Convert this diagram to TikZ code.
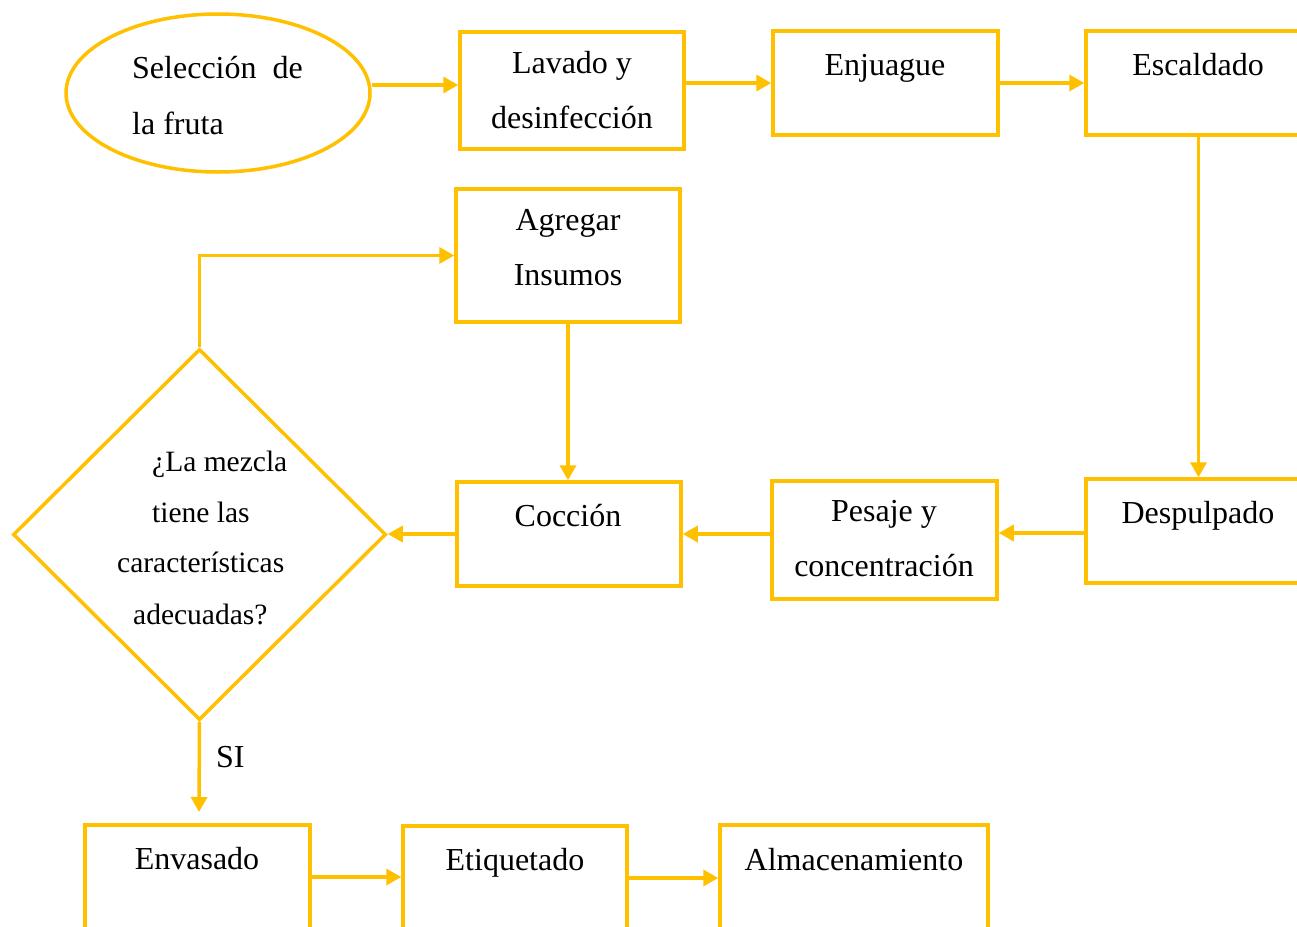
\documentclass[tikz,border=0pt]{standalone}
\usepackage{fontspec}
\setmainfont{Liberation Serif}
\usetikzlibrary{shapes.geometric,arrows.meta,fit}
\definecolor{gold}{HTML}{FFC000}
\tikzset{
  shapeline/.style={draw=gold, line width=3.5pt},
  procbox/.style={shapeline, rectangle, inner sep=0pt},
  arr/.style={draw=gold, line width=3.5pt, -{Triangle[length=15pt,width=16pt]}},
  lbl/.style={font=\fontsize{32}{38}\selectfont, inner sep=0pt, anchor=base},
  qlbl/.style={font=\fontsize{29.5}{35}\selectfont, inner sep=0pt, anchor=base west},
}
\begin{document}
\begin{tikzpicture}[x=1pt,y=-1pt]
\clip (0,0) rectangle (1297,926);
\fill[white] (0,0) rectangle (1297,926);

% start and decision shapes
\node[shapeline, ellipse, minimum width=304pt, minimum height=158pt, inner sep=0pt] (sel) at (218,93) {};
\node[shapeline, diamond, minimum width=373pt, minimum height=371pt, inner sep=0pt] (dia) at (199.5,534.5) {};

% process boxes
\node[procbox, fit={(460,32) (684,149)}] (lav) {};
\node[procbox, fit={(773,31) (998,135)}] (enj) {};
\node[procbox, fit={(1086,31) (1311,135)}] (esc) {};
\node[procbox, fit={(456,189) (680,322)}] (agr) {};
\node[procbox, fit={(457,482) (681,586)}] (coc) {};
\node[procbox, fit={(772,481) (997,599)}] (pes) {};
\node[procbox, fit={(1086,479) (1311,583)}] (desp) {};
\node[procbox, fit={(85,825) (310,929)}] (env) {};
\node[procbox, fit={(403,826) (627,930)}] (etq) {};
\node[procbox, fit={(720,825) (988,929)}] (alm) {};

% texts
\node[qlbl, font=\fontsize{32}{38}\selectfont] (t-sel1) at (132,78) {Selección\ \ de};
\node[qlbl, font=\fontsize{32}{38}\selectfont] (t-sel2) at (132,134) {la fruta};
\node[lbl] (t-lav1) at (572,73) {Lavado y};
\node[lbl] (t-lav2) at (572,128) {desinfección};
\node[lbl] (t-enj) at (885,75) {Enjuague};
\node[lbl] (t-esc) at (1198,75) {Escaldado};
\node[lbl] (t-agr1) at (568,230) {Agregar};
\node[lbl] (t-agr2) at (568,285) {Insumos};
\node[lbl] (t-coc) at (568,526) {Cocción};
\node[lbl] (t-pes1) at (884,521) {Pesaje y};
\node[lbl] (t-pes2) at (884,576) {concentración};
\node[lbl] (t-desp) at (1198,523) {Despulpado};
\node[lbl] (t-env) at (197,869) {Envasado};
\node[lbl] (t-etq) at (515,870) {Etiquetado};
\node[lbl] (t-alm) at (854,870) {Almacenamiento};
\node[qlbl] (q1) at (152,471) {¿La mezcla};
\node[qlbl] (q2) at (152,522) {tiene las};
\node[qlbl] (q3) at (117,572) {características};
\node[qlbl] (q4) at (133,624) {adecuadas?};
\node[qlbl, font=\fontsize{32}{38}\selectfont] (si) at (216,767) {SI};

% connectors
\coordinate (siend) at (199,812);
\draw[arr] ([yshift=8pt]sel.east) -- ([yshift=8pt]sel.east -| lav.west);
\draw[arr] (lav.east |- enj.west) -- (enj.west);
\draw[arr] (enj.east) -- (esc.west);
\draw[arr] (esc.south) -- (desp.north);
\draw[arr] ([yshift=-2pt]desp.west) -- ([yshift=-2pt]desp.west -| pes.east);
\draw[arr] (pes.west |- coc.east) -- (coc.east);
\draw[arr] (coc.west) -- (coc.west -| dia.east);
\draw[arr] (dia.north) |- (agr.west);
\draw[arr] (agr.south) -- (agr.south |- coc.north);
\draw[arr] (dia.south) -- (siend);
\draw[arr] (env.east) -- (env.east -| etq.west);
\draw[arr] (etq.east) -- (etq.east -| alm.west);
\end{tikzpicture}
\end{document}
